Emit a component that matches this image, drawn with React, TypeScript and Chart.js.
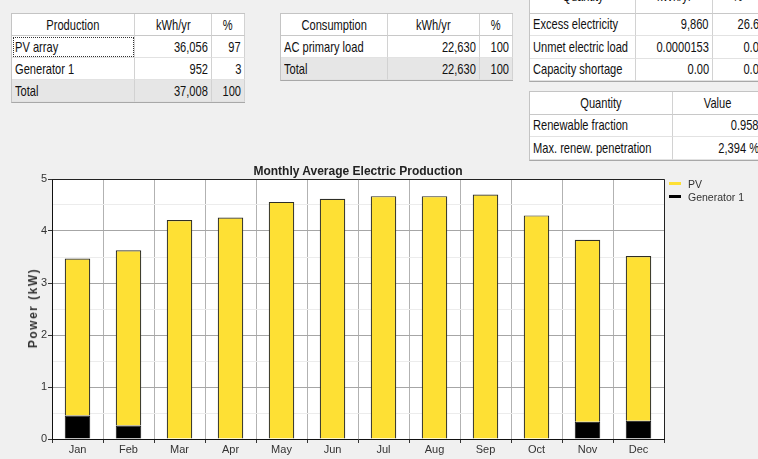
import React, { useEffect, useRef } from "react";
import { Chart, registerables } from "chart.js";

Chart.register(...registerables);

// ---------- chart data ----------
const months = ["Jan", "Feb", "Mar", "Apr", "May", "Jun", "Jul", "Aug", "Sep", "Oct", "Nov", "Dec"];
const pvValues = [3.02, 3.37, 4.2, 4.25, 4.56, 4.62, 4.67, 4.67, 4.7, 4.29, 3.5, 3.17];
const generatorValues = [0.45, 0.26, 0.01, 0.01, 0, 0, 0, 0, 0, 0.01, 0.33, 0.35];
const yTickLabels = ["0", "1", "2", "3", "4", "5"];
const chartTitle = "Monthly Average Electric Production";
const yAxisTitle = "Power (kW)";
const seriesNames = ["PV", "Generator 1"];

// ---------- table data ----------
const productionHeader = ["Production", "kWh/yr", "%"];
const productionRows = [
  ["PV array", "36,056", "97"],
  ["Generator 1", "952", "3"],
  ["Total", "37,008", "100"],
];
const consumptionHeader = ["Consumption", "kWh/yr", "%"];
const consumptionRows = [
  ["AC primary load", "22,630", "100"],
  ["Total", "22,630", "100"],
];
const electricityHeader = ["Quantity", "kWh/yr", "%"];
const electricityRows = [
  ["Excess electricity", "9,860", "26.6"],
  ["Unmet electric load", "0.0000153", "0.0"],
  ["Capacity shortage", "0.00", "0.0"],
];
const quantityHeader = ["Quantity", "Value"];
const quantityRows = [
  ["Renewable fraction", "0.958"],
  ["Max. renew. penetration", "2,394 %"],
];

const PV_COLOR = "#FEE034";
const GEN_COLOR = "#000000";
const TABLE_FONT = '"Liberation Sans", Arial, sans-serif';
const CHART_FONT = '"Liberation Sans", Arial, sans-serif';

type TableProps = {
  left: number;
  top: number;
  colWidths: number[];
  rowH: number;
  header: string[];
  rows: string[][];
  totalLast?: boolean;
  focusCell?: boolean;
  headerShift?: number;
};

function DataTable({ left, top, colWidths, rowH, header, rows, totalLast, focusCell, headerShift = 0 }: TableProps) {
  const width = colWidths.reduce((a, b) => a + b, 0);
  const allRows = [header, ...rows];
  return (
    <div
      style={{
        position: "absolute",
        left,
        top,
        width,
        height: rowH * allRows.length,
        background: "#ffffff",
        borderLeft: "1px solid #c4c4c4",
        borderTop: "1px solid #c4c4c4",
        borderBottom: "1px solid #a8a8a8",
        boxSizing: "content-box",
        fontFamily: TABLE_FONT,
        fontSize: 15,
        color: "#111",
      }}
    >
      {allRows.map((row, ri) => {
        const isHeader = ri === 0;
        const isTotal = totalLast && ri === allRows.length - 1;
        let x = 0;
        return row.map((cell, ci) => {
          const w = colWidths[ci];
          const cellLeft = x;
          x += w;
          const alignLeft = ci === 0 && !isHeader;
          const origin = isHeader ? "center" : alignLeft ? "left" : "right";
          const focused = focusCell && ri === 1 && ci === 0;
          return (
            <div
              key={ri + "-" + ci}
              style={{
                position: "absolute",
                left: cellLeft,
                top: ri * rowH,
                width: w,
                height: rowH,
                boxSizing: "border-box",
                borderRight: "1px solid #d2d2d2",
                borderBottom: isHeader ? "1px solid #c8c8c8" : "1px solid #e2e2e2",
                background: isTotal ? "#e6e6e6" : "#ffffff",
                display: "flex",
                alignItems: "center",
                justifyContent: isHeader ? "center" : alignLeft ? "flex-start" : "flex-end",
                padding: "0 3px",
                whiteSpace: "nowrap",
                overflow: "hidden",
                outline: focused ? "1px dotted #333" : "none",
                outlineOffset: focused ? -2 : 0,
              }}
            >
              <span
                style={{
                  display: "inline-block",
                  transform: `translateY(${isHeader ? -headerShift : 0}px) scaleX(0.74)`,
                  transformOrigin: origin,
                  whiteSpace: "nowrap",
                  lineHeight: "16px",
                }}
              >
                {cell}
              </span>
            </div>
          );
        });
      })}
    </div>
  );
}

const chartAreaPlugin = {
  id: "chartAreaDecor",
  beforeDraw(chart: any) {
    const { ctx, chartArea } = chart;
    ctx.save();
    ctx.fillStyle = "#ffffff";
    ctx.fillRect(chartArea.left, chartArea.top, chartArea.right - chartArea.left, chartArea.bottom - chartArea.top);
    ctx.restore();
  },
  afterDraw(chart: any) {
    const { ctx, chartArea } = chart;
    ctx.save();
    ctx.strokeStyle = "#222";
    ctx.lineWidth = 1;
    ctx.beginPath();
    ctx.moveTo(chartArea.left, chartArea.top + 0.5);
    ctx.lineTo(chartArea.right + 0.5, chartArea.top + 0.5);
    ctx.lineTo(chartArea.right + 0.5, chartArea.bottom);
    ctx.stroke();
    ctx.restore();
  },
};

function ProductionChart() {
  const ref = useRef<HTMLCanvasElement | null>(null);
  useEffect(() => {
    if (!ref.current) return;
    const chart = new Chart(ref.current, {
      type: "bar",
      data: {
        labels: months,
        datasets: [
          {
            label: seriesNames[1],
            data: generatorValues,
            backgroundColor: GEN_COLOR,
            borderColor: "#111",
            borderWidth: 1,
            barPercentage: 0.5,
            categoryPercentage: 1,
          },
          {
            label: seriesNames[0],
            data: pvValues,
            backgroundColor: PV_COLOR,
            borderColor: "#2e2e26",
            borderWidth: 1.2,
            barPercentage: 0.5,
            categoryPercentage: 1,
          },
        ],
      },
      options: {
        animation: false,
        responsive: false,
        maintainAspectRatio: false,
        layout: { padding: { left: 0, top: 19, right: 94, bottom: 0 } },
        plugins: {
          legend: { display: false },
          title: { display: false },
          tooltip: { enabled: false },
        },
        scales: {
          x: {
            stacked: true,
            grid: {
              offset: true,
              color: "#b2b2b2",
              lineWidth: 1,
              tickLength: 4,
              tickColor: "#333",
            },
            border: { display: true, color: "#111", width: 1 },
            ticks: {
              font: { family: CHART_FONT, size: 11 },
              color: "#333",
              padding: 0,
              maxRotation: 0,
              autoSkip: false,
            },
            afterFit: (s: any) => {
              s.height = 20;
            },
          },
          y: {
            stacked: true,
            min: 0,
            max: 5,
            ticks: {
              stepSize: 0.5,
              font: { family: CHART_FONT, size: 11 },
              color: "#333",
              padding: 1,
              autoSkip: false,
              callback: (v: any) => (Number.isInteger(v) ? yTickLabels[v] : ""),
            },
            grid: {
              color: (c: any) => (c.tick && Number.isInteger(c.tick.value) ? "#a6a6a6" : "#ececec"),
              tickColor: (c: any) => (c.tick && Number.isInteger(c.tick.value) ? "#333" : "rgba(0,0,0,0)"),
              tickLength: 4,
              lineWidth: 1,
            },
            border: { display: true, color: "#111", width: 1 },
            afterFit: (s: any) => {
              s.width = 52;
            },
          },
        },
      },
      plugins: [chartAreaPlugin],
    });
    return () => chart.destroy();
  }, []);
  return (
    <canvas
      ref={ref}
      width={758}
      height={299}
      style={{ position: "absolute", left: 0, top: 160, width: 758, height: 299, display: "block" }}
    />
  );
}

export default function App() {
  return (
    <div
      style={{
        position: "absolute",
        left: 0,
        top: 0,
        width: 758,
        height: 459,
        background: "#f0f0f0",
        overflow: "hidden",
      }}
    >
      <DataTable left={11} top={13} colWidths={[123, 77, 33]} rowH={22} header={productionHeader} rows={productionRows} totalLast focusCell />
      <DataTable left={280} top={13} colWidths={[107, 92, 33]} rowH={22} header={consumptionHeader} rows={consumptionRows} totalLast />
      <DataTable left={529} top={-10} colWidths={[106, 77, 50]} rowH={22.5} header={electricityHeader} rows={electricityRows} headerShift={6} />
      <DataTable left={529} top={91} colWidths={[143, 90]} rowH={22.5} header={quantityHeader} rows={quantityRows} />

      <ProductionChart />

      <div
        style={{
          position: "absolute",
          left: 158,
          width: 400,
          top: 164,
          textAlign: "center",
          fontFamily: CHART_FONT,
          fontWeight: "bold",
          fontSize: 12,
          lineHeight: "14px",
          color: "#222",
          whiteSpace: "nowrap",
        }}
      >
        {chartTitle}
      </div>

      <div
        style={{
          position: "absolute",
          left: 33,
          top: 308,
          transform: "translate(-50%, -50%) rotate(-90deg)",
          fontFamily: CHART_FONT,
          fontWeight: "bold",
          fontSize: 12,
          letterSpacing: 1.5,
          color: "#333",
          whiteSpace: "nowrap",
        }}
      >
        {yAxisTitle}
      </div>

      <div style={{ position: "absolute", left: 669, top: 177, fontFamily: CHART_FONT, fontSize: 10.5, color: "#333" }}>
        {[PV_COLOR, GEN_COLOR].map((c, i) => (
          <div key={i} style={{ display: "flex", alignItems: "center", height: 13 }}>
            <span style={{ display: "inline-block", width: 12, height: 3, background: c, marginRight: 7 }} />
            <span>{seriesNames[i]}</span>
          </div>
        ))}
      </div>
    </div>
  );
}
